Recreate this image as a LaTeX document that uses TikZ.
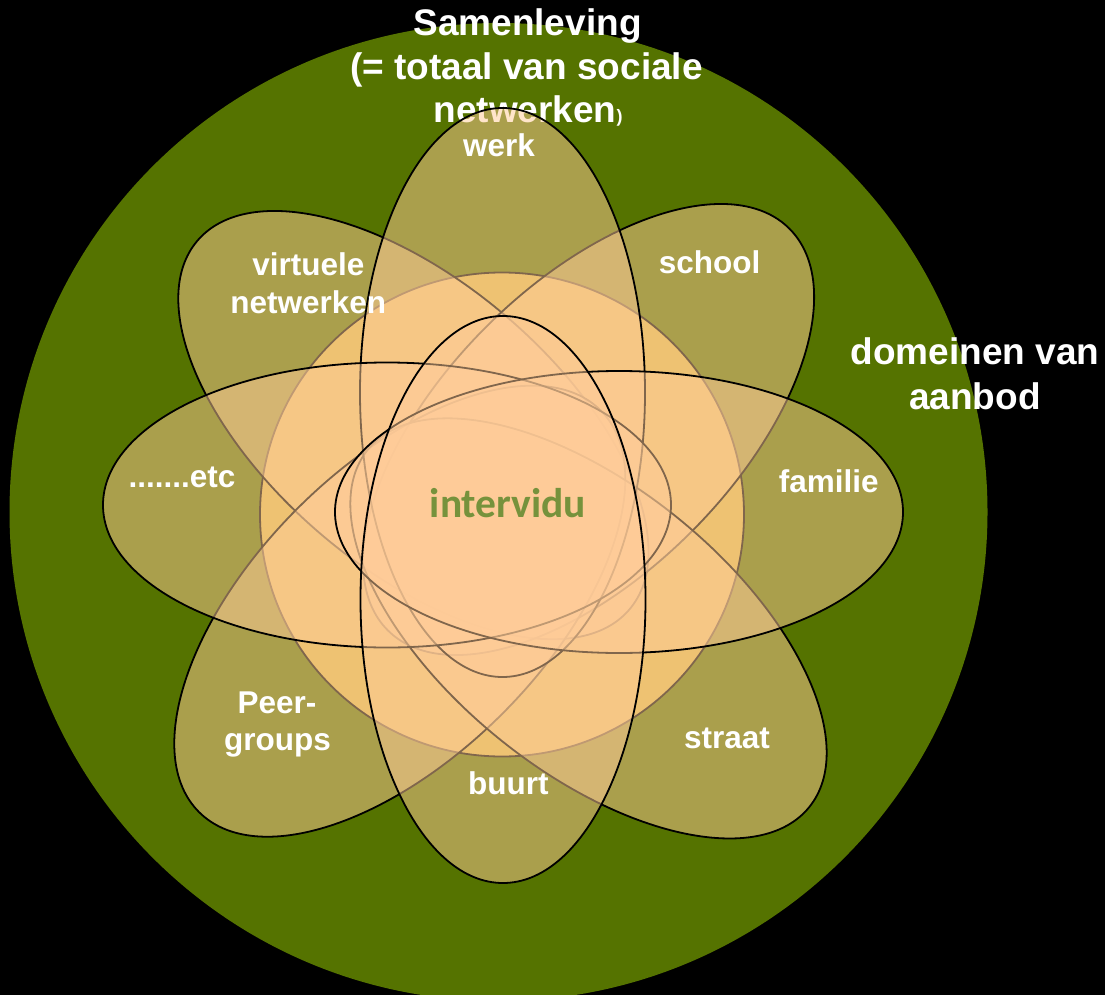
\documentclass[tikz,border=0pt]{standalone}
\usepackage{fontspec}
\setmainfont{Liberation Sans}
\newfontfamily\carlitofont{Carlito}
\definecolor{bgreen}{RGB}{85,115,0}
\definecolor{goldc}{RGB}{221,185,75}
\definecolor{peach}{RGB}{255,204,153}
\definecolor{ivgreen}{RGB}{118,146,60}
\begin{document}
\begin{tikzpicture}[x=1pt,y=-1pt,
  petal/.style={draw=black, line width=1.8pt, fill=peach, fill opacity=0.5},
  ring/.style={draw=black, line width=1.8pt, fill=goldc},
  title/.style={text=white, inner sep=0pt, anchor=base, font=\bfseries\fontsize{37}{44}\selectfont},
  lbl/.style={text=white, inner sep=0pt, anchor=base, font=\bfseries\fontsize{31.5}{38}\selectfont}]
\useasboundingbox (0,0) rectangle (1105,995);
\fill[black] (0,0) rectangle (1105,995);
% society circle
\fill[bgreen] (498.5,512) circle [radius=489];
% title (lies under the petals)
\node[title] (t1) at (527.5,36) {Samenleving};
\node[title] (t2) at (526.5,80) {(= totaal van sociale};
\node[title] (t3) at (528,123) {netwerken{\fontsize{18}{20}\selectfont)}};
% central circle
\draw[ring] (502,514.5) circle [radius=242];
% petals
\draw[petal, rotate around={139.5:(413.4,425.1)}] (413.4,425.1) ellipse [x radius=284, y radius=143];
\draw[petal, rotate around={45:(588.6,429.5)}] (588.6,429.5) ellipse [x radius=284, y radius=145];
\draw[petal, rotate around={225:(399.8,611.2)}] (399.8,611.2) ellipse [x radius=284, y radius=145];
\draw[petal, rotate around={-39:(588.5,628.4)}] (588.5,628.4) ellipse [x radius=284, y radius=142];
\draw[petal] (502.5,392.5) ellipse [x radius=142.5, y radius=284.5];
\draw[petal] (387,505) ellipse [x radius=284, y radius=142.5];
\draw[petal] (619,512) ellipse [x radius=284, y radius=141];
\draw[petal] (503,599.5) ellipse [x radius=142.5, y radius=283.5];
% labels
\node[lbl] (werk) at (499,157) {werk};
\node[lbl] (school) at (709.5,273) {school};
\node[lbl] (virt1) at (308.3,275) {virtuele};
\node[lbl] (virt2) at (308.3,313) {netwerken};
\node[title] (dom1) at (975,364) {domeinen van};
\node[title] (dom2) at (975,409) {aanbod};
\node[lbl] (etc) at (182,487) {.......etc};
\node[lbl] (fam) at (828.7,492) {familie};
\node[inner sep=0pt, anchor=base, text=ivgreen, font=\carlitofont\bfseries\fontsize{41.5}{48}\selectfont] (ind) at (508,517) {intervidu};
\node[lbl] (peer1) at (277,713) {Peer-};
\node[lbl] (peer2) at (277.5,750) {groups};
\node[lbl] (straat) at (727,748) {straat};
\node[lbl] (buurt) at (508.3,794) {buurt};
\end{tikzpicture}
\end{document}
